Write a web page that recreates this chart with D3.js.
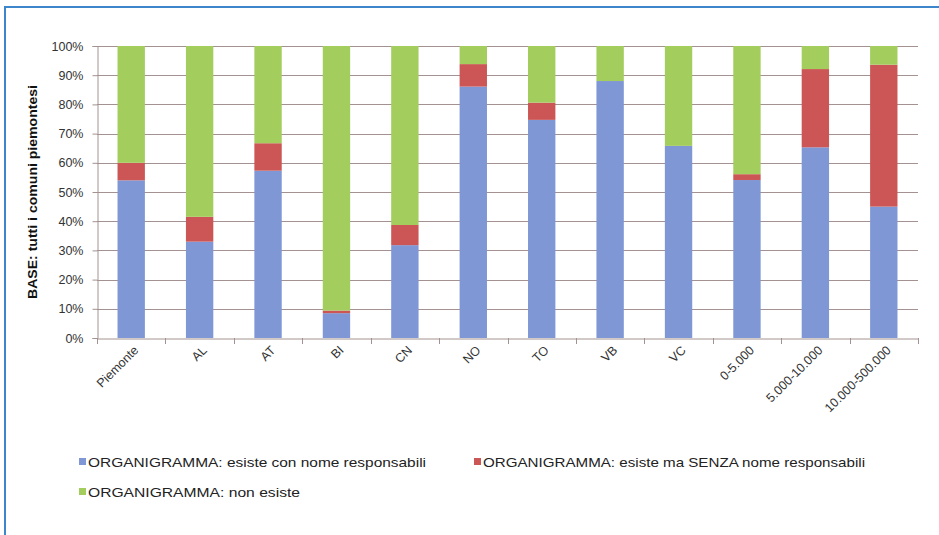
<!DOCTYPE html>
<html>
<head>
<meta charset="utf-8">
<script src="https://cdn.jsdelivr.net/npm/d3@7/dist/d3.min.js"></script>
<style>
  html, body { margin: 0; padding: 0; background: #fff; }
  svg { display: block; }
</style>
</head>
<body>
<div id="chart"></div>
<script>
// ---- data ----
const categories = ["Piemonte", "AL", "AT", "BI", "CN", "NO", "TO", "VB", "VC", "0-5.000", "5.000-10.000", "10.000-500.000"];
const conNome   = [54, 33, 57.3, 8.5, 31.8, 86.1, 74.7, 88, 65.8, 54.1, 65.3, 45];
const senzaNome = [6, 8.5, 9.4, 0.9, 6.9, 7.7, 5.9, 0, 0, 2, 26.8, 48.6];
const nonEsiste = [40, 58.5, 33.3, 90.6, 61.3, 6.2, 19.4, 12, 34.2, 43.9, 7.9, 6.4];
const seriesNames = [
  "ORGANIGRAMMA: esiste con nome responsabili",
  "ORGANIGRAMMA: esiste ma SENZA nome responsabili",
  "ORGANIGRAMMA: non esiste"
];
const yTicks = [0, 10, 20, 30, 40, 50, 60, 70, 80, 90, 100];
const yTitle = "BASE: tutti i comuni piemontesi";

// ---- setup ----
const W = 939, H = 535;
const colors = ["#8097d5", "#cc5655", "#a3cd5d"];
const font = "'Liberation Sans', Arial, sans-serif";

const svg = d3.select("#chart").append("svg").attr("width", W).attr("height", H);
svg.append("rect").attr("width", W).attr("height", H).attr("fill", "#fff");
// outer blue frame
svg.append("rect").attr("x", 5).attr("y", 7).attr("width", 1200).attr("height", 1200)
  .attr("fill", "none").attr("stroke", "#3d86cc").attr("stroke-width", 2);

const margin = {left: 97, right: 918, top: 46, bottom: 338};
const x = d3.scaleBand().domain(categories).range([margin.left, margin.right]).paddingInner(0.6).paddingOuter(0.3);
const xb = d3.scaleBand().domain(categories).range([margin.left, margin.right]);
const y = d3.scaleLinear().domain([0, 100]).range([margin.bottom, margin.top]);

const gridColor = "#a49292";

// gridlines
svg.append("g").selectAll("line").data(yTicks.filter(d => d > 0)).join("line")
  .attr("x1", margin.left).attr("x2", margin.right)
  .attr("y1", d => Math.round(y(d)) + 0.5).attr("y2", d => Math.round(y(d)) + 0.5)
  .attr("stroke", gridColor).attr("stroke-width", 1);

// stacked bars
const rows = categories.map((c, i) => ({cat: c, a: conNome[i], b: senzaNome[i], c: nonEsiste[i]}));
const stack = d3.stack().keys(["a", "b", "c"])(rows);
svg.append("g").selectAll("g").data(stack).join("g")
  .attr("fill", (d, i) => colors[i])
  .selectAll("rect").data(d => d).join("rect")
  .attr("x", d => x(d.data.cat))
  .attr("width", x.bandwidth())
  .attr("y", d => y(Math.min(100, d[1])))
  .attr("height", d => Math.max(0, y(d[0]) - y(Math.min(100, d[1]))));

// y axis
const yAxis = d3.axisLeft(y).tickValues(yTicks).tickFormat(d => d + "%").tickSize(5).tickPadding(9);
const gy = svg.append("g").attr("transform", `translate(${margin.left + 0.5},0)`).call(yAxis);
gy.select(".domain").attr("stroke", gridColor);
gy.selectAll(".tick line").attr("stroke", gridColor);
gy.selectAll("text").attr("font-family", font).attr("font-size", 12.5).attr("fill", "#333");

// x axis
const xAxis = d3.axisBottom(xb).tickSize(0).tickFormat("");
const gx = svg.append("g").attr("transform", `translate(0,${margin.bottom + 0.5})`).call(xAxis);
gx.select(".domain").attr("stroke", gridColor);
// tick marks at band boundaries
const bounds = categories.map(c => xb(c)).concat([margin.right]);
svg.append("g").selectAll("line").data(bounds).join("line")
  .attr("x1", d => Math.round(d) + 0.5).attr("x2", d => Math.round(d) + 0.5)
  .attr("y1", margin.bottom).attr("y2", margin.bottom + 6)
  .attr("stroke", gridColor);
// rotated labels
svg.append("g").selectAll("text").data(categories).join("text")
  .attr("transform", d => `translate(${xb(d) + xb.bandwidth() / 2 + 8},${margin.bottom + 13}) rotate(-45)`)
  .attr("text-anchor", "end")
  .attr("font-family", font).attr("font-size", 12.5).attr("fill", "#333")
  .text(d => d);

// y title
svg.append("text")
  .attr("transform", `translate(37,${(margin.top + margin.bottom) / 2}) rotate(-90)`)
  .attr("text-anchor", "middle")
  .attr("font-family", font).attr("font-size", 12.5).attr("font-weight", "bold").attr("fill", "#111")
  .attr("textLength", 214).attr("lengthAdjust", "spacingAndGlyphs")
  .text(yTitle);

// legend
const legendPos = [
  {sx: 79, tx: 88, y: 462, w: 338},
  {sx: 474, tx: 483, y: 462, w: 382},
  {sx: 79, tx: 88, y: 492, w: 212}
];
const lg = svg.append("g");
seriesNames.forEach((name, i) => {
  const p = legendPos[i];
  lg.append("rect").attr("x", p.sx).attr("y", p.y - 4).attr("width", 7).attr("height", 7).attr("fill", colors[i]);
  lg.append("text").attr("x", p.tx).attr("y", p.y + 4.5)
    .attr("font-family", font).attr("font-size", 13.5).attr("fill", "#222")
    .attr("textLength", p.w).attr("lengthAdjust", "spacingAndGlyphs")
    .text(name);
});
</script>
</body>
</html>
